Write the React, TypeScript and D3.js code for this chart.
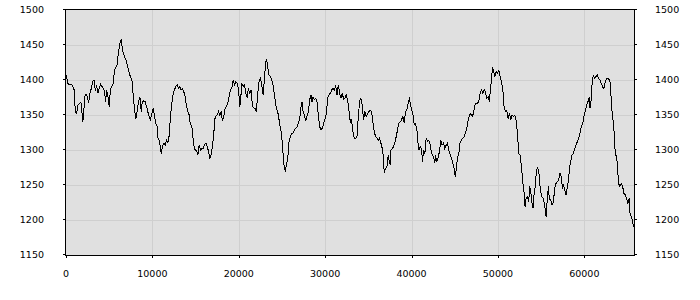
import React from 'react';
import * as d3 from 'd3';

const yTicks = [1150, 1200, 1250, 1300, 1350, 1400, 1450, 1500];
const xTicks = [0, 10000, 20000, 30000, 40000, 50000, 60000];
const xDomain = [0, 65750];
const yDomain = [1150, 1500];

const series: [number, number][] = [
  [0, 1407], [230, 1395], [390, 1393], [620, 1394], [810, 1390], [920, 1388], [1080, 1355], [1230, 1352], [1390, 1364], [1660, 1368],
  [1770, 1367], [1930, 1340], [2040, 1350], [2160, 1376], [2310, 1380], [2470, 1376], [2620, 1367], [2770, 1381], [2930, 1388], [3080, 1398],
  [3240, 1400], [3390, 1386], [3550, 1391], [3700, 1381], [3850, 1388], [4010, 1394], [4160, 1391], [4320, 1388], [4470, 1383], [4590, 1369],
  [4700, 1386], [4860, 1376], [5010, 1362], [5130, 1386], [5320, 1391], [5470, 1395], [5550, 1407], [5700, 1417], [5900, 1421], [6090, 1441],
  [6280, 1455], [6400, 1457], [6470, 1450], [6630, 1438], [6780, 1433], [6940, 1429], [7090, 1421], [7250, 1414], [7440, 1405], [7630, 1400],
  [7790, 1376], [7940, 1357], [8090, 1345], [8250, 1357], [8400, 1369], [8560, 1375], [8710, 1355], [8830, 1369], [8980, 1370], [9170, 1369],
  [9370, 1360], [9560, 1350], [9750, 1343], [9940, 1352], [10100, 1360], [10250, 1348], [10410, 1338], [10560, 1333], [10640, 1317], [10790, 1314],
  [10950, 1302], [11020, 1295], [11180, 1305], [11330, 1310], [11490, 1307], [11640, 1314], [11790, 1310], [11950, 1321], [12100, 1350], [12260, 1367],
  [12410, 1381], [12560, 1386], [12720, 1391], [12870, 1393], [13030, 1388], [13180, 1391], [13330, 1386], [13490, 1388], [13640, 1383], [13800, 1376],
  [13950, 1362], [14110, 1355], [14260, 1350], [14380, 1338], [14570, 1333], [14680, 1319], [14800, 1307], [14950, 1300], [15150, 1298], [15260, 1293],
  [15420, 1307], [15570, 1300], [15720, 1302], [15880, 1302], [16030, 1307], [16190, 1310], [16340, 1305], [16500, 1298], [16650, 1288], [16800, 1293],
  [16960, 1307], [17110, 1321], [17190, 1343], [17340, 1348], [17500, 1350], [17650, 1355], [17810, 1350], [17960, 1355], [18110, 1341], [18270, 1348],
  [18420, 1360], [18580, 1362], [18730, 1367], [18880, 1376], [19040, 1386], [19190, 1388], [19350, 1400], [19500, 1393], [19660, 1398], [19810, 1395],
  [19960, 1388], [20120, 1362], [20230, 1374], [20350, 1395], [20500, 1391], [20660, 1393], [20810, 1381], [20970, 1376], [21120, 1388], [21270, 1381],
  [21430, 1386], [21580, 1362], [21740, 1360], [21890, 1360], [22040, 1355], [22200, 1381], [22350, 1398], [22510, 1402], [22660, 1393], [22820, 1379],
  [22970, 1402], [23120, 1426], [23240, 1429], [23360, 1417], [23510, 1407], [23660, 1405], [23820, 1400], [23970, 1393], [24130, 1379], [24280, 1364],
  [24430, 1357], [24590, 1350], [24740, 1336], [24900, 1326], [25050, 1310], [25170, 1286], [25280, 1274], [25400, 1271], [25510, 1279], [25670, 1288],
  [25820, 1312], [25980, 1319], [26130, 1324], [26280, 1324], [26440, 1329], [26590, 1331], [26750, 1333], [26900, 1338], [27060, 1345], [27210, 1362],
  [27330, 1369], [27440, 1355], [27600, 1350], [27750, 1341], [27900, 1348], [28060, 1355], [28210, 1372], [28370, 1379], [28480, 1369], [28600, 1376],
  [28750, 1372], [28910, 1374], [29060, 1369], [29210, 1350], [29370, 1333], [29520, 1329], [29680, 1331], [29830, 1338], [29990, 1345], [30140, 1352],
  [30290, 1374], [30450, 1379], [30600, 1381], [30760, 1386], [30910, 1388], [31060, 1386], [31220, 1391], [31370, 1379], [31530, 1393], [31680, 1381],
  [31830, 1374], [31990, 1381], [32140, 1372], [32290, 1374], [32440, 1379], [32600, 1371], [32750, 1357], [32910, 1340], [33060, 1343], [33210, 1326],
  [33370, 1317], [33520, 1316], [33680, 1319], [33750, 1333], [33830, 1345], [33990, 1371], [34140, 1374], [34290, 1364], [34450, 1343], [34600, 1355],
  [34760, 1348], [34910, 1352], [35070, 1355], [35220, 1357], [35370, 1355], [35530, 1340], [35680, 1326], [35840, 1319], [35990, 1317], [36140, 1314],
  [36300, 1317], [36450, 1310], [36610, 1302], [36720, 1293], [36840, 1267], [36990, 1274], [37150, 1276], [37300, 1293], [37420, 1283], [37530, 1279],
  [37610, 1300], [37760, 1302], [37920, 1305], [38070, 1310], [38220, 1319], [38380, 1329], [38530, 1338], [38690, 1340], [38840, 1343], [38990, 1348],
  [39150, 1338], [39300, 1355], [39460, 1357], [39610, 1367], [39770, 1375], [39840, 1367], [40000, 1357], [40150, 1352], [40310, 1336], [40460, 1338],
  [40620, 1329], [40730, 1312], [40850, 1300], [41000, 1305], [41150, 1302], [41270, 1283], [41390, 1300], [41540, 1295], [41690, 1317], [41850, 1312],
  [42000, 1314], [42160, 1307], [42310, 1295], [42460, 1293], [42620, 1286], [42700, 1281], [42770, 1293], [42930, 1283], [43080, 1290], [43240, 1298],
  [43390, 1314], [43540, 1307], [43700, 1310], [43850, 1302], [44010, 1307], [44160, 1310], [44310, 1300], [44470, 1293], [44620, 1288], [44780, 1281],
  [44930, 1274], [45050, 1262], [45160, 1271], [45320, 1290], [45470, 1295], [45630, 1312], [45780, 1314], [45930, 1317], [46090, 1319], [46240, 1324],
  [46400, 1331], [46550, 1343], [46700, 1350], [46860, 1352], [47010, 1348], [47170, 1352], [47320, 1364], [47480, 1367], [47630, 1367], [47780, 1369],
  [47940, 1381], [48090, 1386], [48250, 1381], [48400, 1386], [48550, 1383], [48710, 1374], [48860, 1376], [49020, 1369], [49130, 1388], [49250, 1400],
  [49360, 1417], [49480, 1414], [49630, 1405], [49790, 1412], [49940, 1410], [50100, 1414], [50250, 1405], [50400, 1398], [50560, 1388], [50710, 1362],
  [50870, 1355], [51020, 1357], [51170, 1345], [51330, 1352], [51480, 1343], [51640, 1350], [51790, 1348], [51950, 1350], [52100, 1343], [52250, 1326],
  [52410, 1295], [52560, 1293], [52720, 1276], [52870, 1255], [53020, 1240], [53140, 1219], [53260, 1231], [53410, 1233], [53560, 1226], [53680, 1248],
  [53800, 1240], [53950, 1224], [54070, 1217], [54180, 1236], [54340, 1250], [54450, 1271], [54570, 1274], [54720, 1271], [54840, 1252], [54950, 1240],
  [55110, 1233], [55260, 1231], [55410, 1221], [55570, 1205], [55720, 1231], [55840, 1248], [55950, 1229], [56110, 1229], [56260, 1221], [56420, 1226],
  [56570, 1245], [56720, 1252], [56880, 1255], [57030, 1257], [57190, 1267], [57340, 1262], [57460, 1245], [57570, 1250], [57730, 1243], [57880, 1236],
  [58040, 1248], [58190, 1257], [58270, 1274], [58420, 1283], [58580, 1293], [58730, 1295], [58880, 1302], [59040, 1307], [59190, 1312], [59350, 1317],
  [59500, 1324], [59650, 1333], [59810, 1338], [59960, 1348], [60120, 1357], [60270, 1364], [60420, 1369], [60580, 1376], [60660, 1360], [60810, 1374],
  [60930, 1402], [61040, 1406], [61200, 1402], [61350, 1405], [61500, 1407], [61660, 1402], [61810, 1400], [61970, 1395], [62120, 1390], [62270, 1388],
  [62430, 1398], [62580, 1402], [62740, 1402], [62890, 1400], [63050, 1395], [63120, 1364], [63280, 1348], [63430, 1329], [63580, 1295], [63740, 1290],
  [63820, 1279], [63970, 1252], [64120, 1248], [64280, 1252], [64430, 1248], [64590, 1238], [64740, 1236], [64890, 1231], [65050, 1224], [65200, 1231],
  [65280, 1210], [65430, 1205], [65590, 1198], [65700, 1190],
];

export default function App() {
  const W = 700, H = 300;
  const L = 66, R = 634, T = 10, B = 255;
  const x = d3.scaleLinear().domain(xDomain).range([L, R]);
  const y = d3.scaleLinear().domain(yDomain).range([B, T]);
  const line = d3.line<[number, number]>().x(d => x(d[0])).y(d => y(d[1]));
  const px = (v: number) => Math.round(v) + 0.5;
  const font = { fontFamily: 'DejaVu Sans, Verdana, sans-serif', fontSize: 9.5 };

  return (
    <svg width={W} height={H} style={{ position: 'absolute', left: 0, top: 0, background: '#fff' }}>
      <rect x={L} y={T} width={R - L} height={B - T} fill="#e0e0e0" />
      <g stroke="#cfcfcf" strokeWidth={1} shapeRendering="crispEdges">
        {yTicks.slice(1, -1).map(t => (
          <line key={'gy' + t} x1={L} x2={R} y1={px(y(t))} y2={px(y(t))} />
        ))}
        {xTicks.slice(1).map(t => (
          <line key={'gx' + t} x1={px(x(t))} x2={px(x(t))} y1={T} y2={B} />
        ))}
      </g>
      <path d={line(series) || ''} fill="none" stroke="#000" strokeWidth={1} shapeRendering="crispEdges" />
      <g stroke="#000" strokeWidth={1} shapeRendering="crispEdges" fill="none">
        <rect x={L - 0.5} y={T - 0.5} width={R - L + 1} height={B - T + 1} />
        {yTicks.map(t => (
          <g key={'ty' + t}>
            <line x1={L - 3} x2={L} y1={px(y(t)) - 1} y2={px(y(t)) - 1} />
            <line x1={R} x2={R + 3} y1={px(y(t)) - 1} y2={px(y(t)) - 1} />
          </g>
        ))}
        {xTicks.map(t => (
          <line key={'tx' + t} x1={px(x(t))} x2={px(x(t))} y1={B} y2={B + 3} />
        ))}
      </g>
      <g style={font} fill="#000">
        {yTicks.map(t => (
          <text key={'ly' + t} x={44} y={y(t)} dy="0.35em" textAnchor="end">{t}</text>
        ))}
        {yTicks.map(t => (
          <text key={'ry' + t} x={655} y={y(t)} dy="0.35em" textAnchor="start">{t}</text>
        ))}
        {xTicks.map(t => (
          <text key={'lx' + t} x={x(t)} y={274} dy="0.35em" textAnchor="middle">{t}</text>
        ))}
      </g>
    </svg>
  );
}
